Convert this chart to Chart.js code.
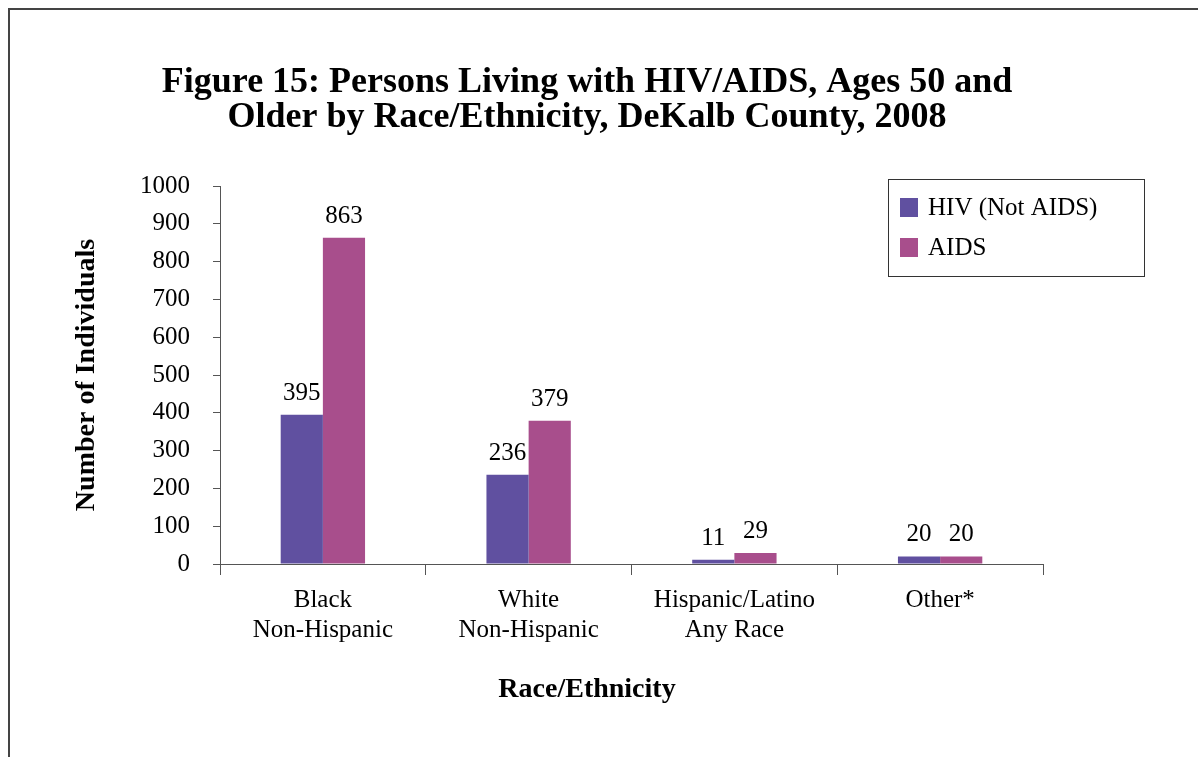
<!DOCTYPE html>
<html>
<head>
<meta charset="utf-8">
<title>Persons Living with HIV/AIDS, Ages 50 and Older</title>
<script src="https://cdn.jsdelivr.net/npm/chart.js@4/dist/chart.umd.min.js"></script>
<style>
  html, body { margin: 0; padding: 0; background: #fff; }
  #wrap { position: relative; width: 1198px; height: 757px; }
  #frame {
    position: absolute; left: 8px; top: 8px; right: 0; bottom: 0;
    border-left: 2px solid #444; border-top: 2px solid #444;
  }
  #myChart { position: absolute; left: 0; top: 0; }
</style>
</head>
<body>
<div id="wrap">
  <div id="frame"></div>
  <canvas id="myChart" width="1198" height="757"></canvas>
</div>
<script>
var titleLines = [
  "Figure 15: Persons Living with HIV/AIDS, Ages 50 and",
  "Older by Race/Ethnicity, DeKalb County, 2008"
];
var xTitle = "Race/Ethnicity";
var yTitle = "Number of Individuals";
var categories = [
  ["Black", "Non-Hispanic"],
  ["White", "Non-Hispanic"],
  ["Hispanic/Latino", "Any Race"],
  ["Other*"]
];
var seriesNames = ["HIV (Not AIDS)", "AIDS"];
var hivValues = [395, 236, 11, 20];
var aidsValues = [863, 379, 29, 20];
var yMin = 0, yMax = 1000, yStep = 100;

var barColors = ["#6050a0", "#a84e8c"];
var serif = "'Liberation Serif', 'Times New Roman', serif";

// heading and the x axis caption, both centred on the figure
var captions = {
  id: "captions",
  afterDraw: function (chart) {
    var ctx = chart.ctx;
    ctx.save();
    ctx.fillStyle = "#000";
    ctx.textAlign = "center";
    ctx.textBaseline = "alphabetic";
    ctx.font = "bold 36px " + serif;
    ctx.fillText(titleLines[0], 587, 92);
    ctx.fillText(titleLines[1], 587, 127);
    ctx.font = "bold 28px " + serif;
    ctx.textBaseline = "middle";
    ctx.fillText(xTitle, 587, 690);
    ctx.restore();
  }
};

// value printed above every bar
var valueLabels = {
  id: "valueLabels",
  afterDatasetsDraw: function (chart) {
    var ctx = chart.ctx;
    ctx.save();
    ctx.fillStyle = "#000";
    ctx.font = "25px " + serif;
    ctx.textAlign = "center";
    ctx.textBaseline = "alphabetic";
    chart.data.datasets.forEach(function (ds, i) {
      chart.getDatasetMeta(i).data.forEach(function (bar, j) {
        ctx.fillText(String(ds.data[j]), bar.x, bar.y - 15);
      });
    });
    ctx.restore();
  }
};

// boxed legend sitting inside the plot, top right
var boxLegend = {
  id: "boxLegend",
  afterDraw: function (chart) {
    var ctx = chart.ctx;
    var x = 888, y = 179, w = 256, h = 97;
    ctx.save();
    ctx.fillStyle = "#fff";
    ctx.fillRect(x, y, w, h);
    ctx.strokeStyle = "#333";
    ctx.lineWidth = 1;
    ctx.strokeRect(x + 0.5, y + 0.5, w, h);
    ctx.font = "25px " + serif;
    ctx.textBaseline = "middle";
    ctx.textAlign = "left";
    chart.data.datasets.forEach(function (ds, i) {
      var rowY = y + 28 + i * 40;
      ctx.fillStyle = ds.backgroundColor;
      ctx.fillRect(x + 12, rowY - 9, 18, 19);
      ctx.fillStyle = "#000";
      ctx.fillText(ds.label, x + 40, rowY + 1);
    });
    ctx.restore();
  }
};

new Chart("myChart", {
  type: "bar",
  data: {
    labels: categories,
    datasets: [
      { label: seriesNames[0], data: hivValues, backgroundColor: barColors[0] },
      { label: seriesNames[1], data: aidsValues, backgroundColor: barColors[1] }
    ]
  },
  options: {
    responsive: false,
    animation: false,
    events: [],
    layout: { padding: { top: 186, right: 155, bottom: 0, left: 66 } },
    datasets: {
      bar: { categoryPercentage: 0.41, barPercentage: 1.0 }
    },
    plugins: {
      legend: { display: false },
      title: { display: false },
      tooltip: { enabled: false }
    },
    scales: {
      x: {
        afterFit: function (s) { s.height = 193; },
        grid: {
          offset: true,
          drawOnChartArea: false,
          tickLength: 11,
          color: "#555"
        },
        border: { color: "#555", width: 1 },
        ticks: {
          color: "#000",
          padding: 10,
          maxRotation: 0,
          font: { family: serif, size: 25, lineHeight: 1.2 }
        }
      },
      y: {
        min: yMin,
        max: yMax,
        afterFit: function (s) { s.width = 154; },
        grid: {
          drawOnChartArea: false,
          tickLength: 7,
          color: "#555"
        },
        border: { color: "#555", width: 1 },
        ticks: {
          stepSize: yStep,
          color: "#000",
          padding: 23,
          font: { family: serif, size: 25 },
          callback: function (v) { return String(v); }
        },
        title: {
          display: true,
          text: yTitle,
          color: "#000",
          padding: { top: 4, bottom: 4 },
          font: { family: serif, size: 28, weight: "bold", lineHeight: 1.2 }
        }
      }
    }
  },
  plugins: [captions, valueLabels, boxLegend]
});
</script>
</body>
</html>
